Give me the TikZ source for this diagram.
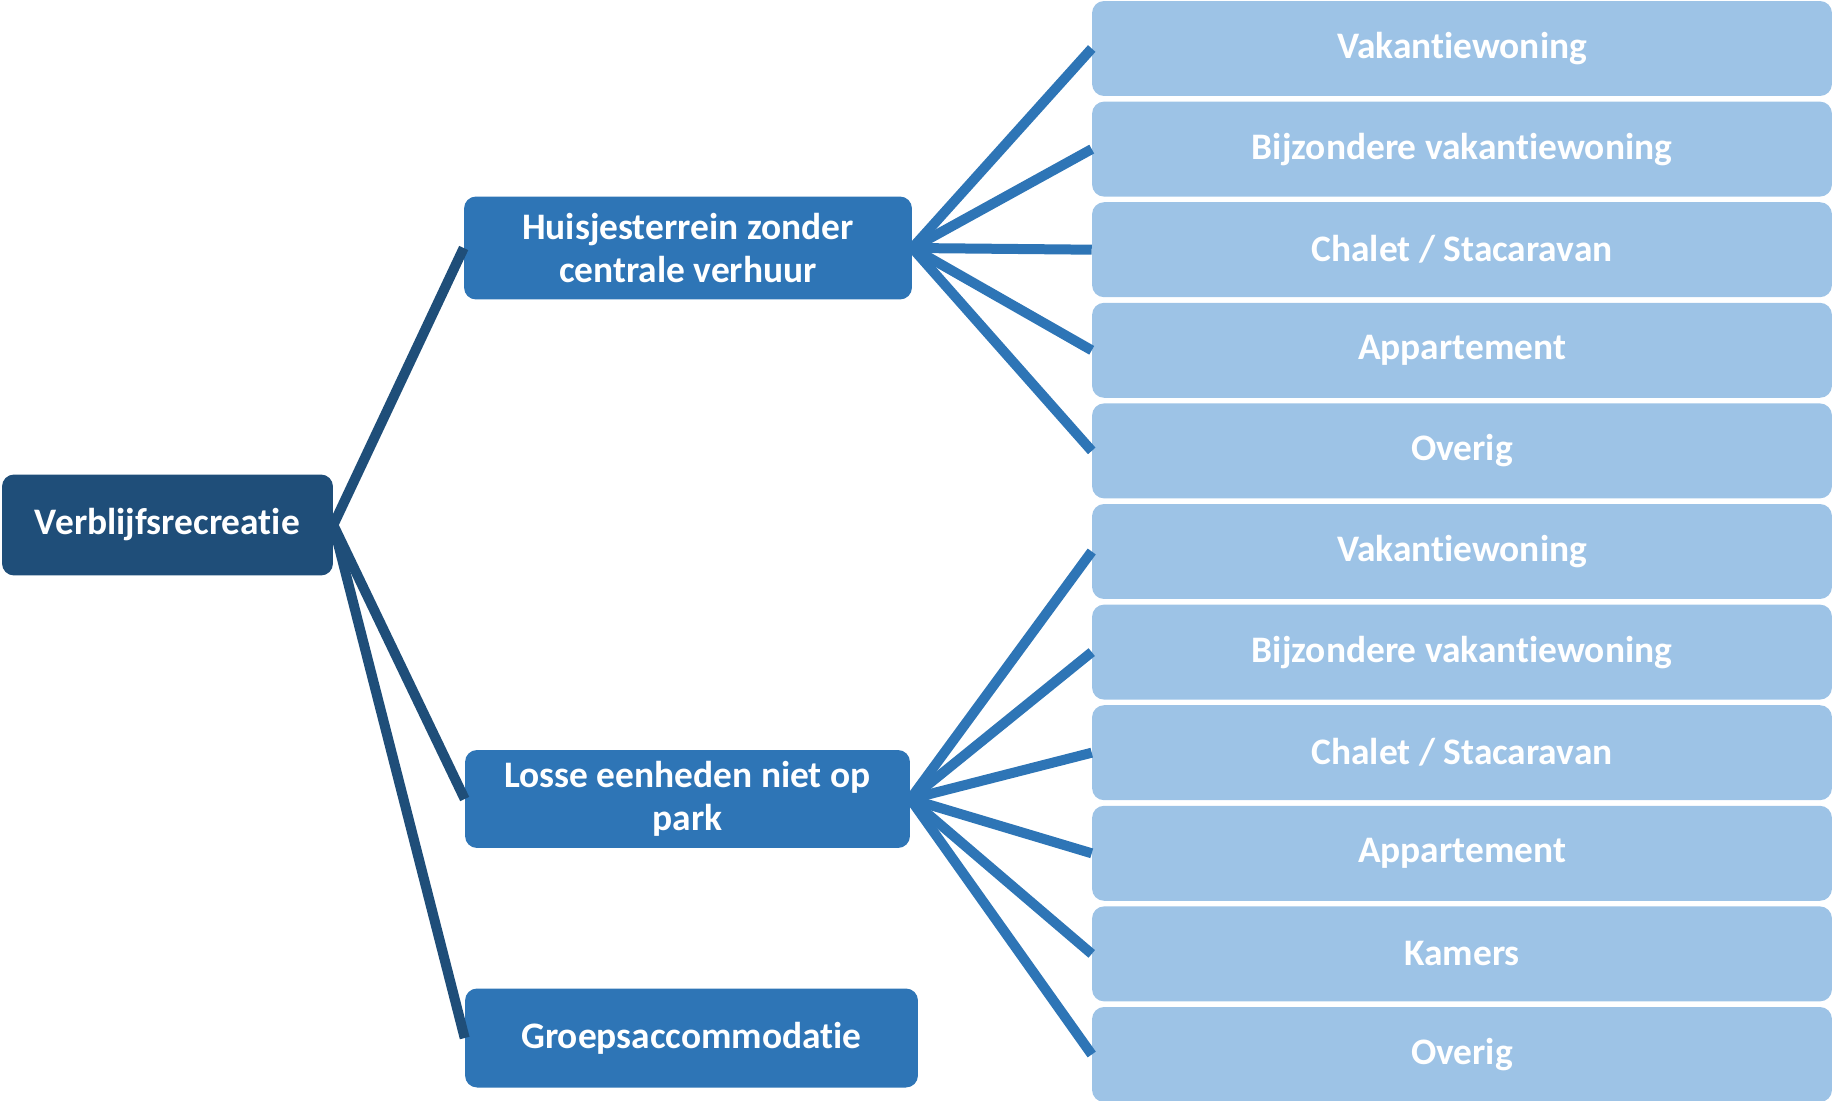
\documentclass[tikz,border=0pt]{standalone}
\usepackage{fontspec}
\setmainfont{Carlito}[Ligatures=NoCommon]
\definecolor{recdark}{RGB}{31, 78, 121}
\definecolor{recblue}{RGB}{46, 117, 182}
\definecolor{reclight}{RGB}{157, 195, 230}
\tikzset{
    catbox/.style={rectangle, rounded corners=0.24cm, inner sep=0pt, align=center,
        text=white, font=\fontsize{21.3}{24.5}\selectfont\bfseries},
    rootbox/.style={catbox, fill=recdark, minimum width=6.62cm, minimum height=2.02cm},
    midbox/.style={catbox, fill=recblue, minimum height=2cm},
    leafbox/.style={catbox, fill=reclight, minimum width=14.8cm, minimum height=1.9cm},
    rootline/.style={draw=recdark, line width=0.2cm},
    leafline/.style={draw=recblue, line width=0.2cm}
}

\begin{document}
\begin{tikzpicture}[x=0.02cm, y=-0.02cm]
    \useasboundingbox (0,0) rectangle (1834,1101);

    % Root
    \node[rootbox] (verblijf) at (167.5,525) {Verblijfsrecreatie};

    % Second level
    \node[midbox, minimum width=8.96cm, minimum height=2.06cm] (huisjes) at (688,248) {Huisjesterrein zonder\\centrale verhuur};
    \node[midbox, minimum width=8.9cm, minimum height=1.96cm] (losse) at (687.5,799) {Losse eenheden niet op\\park};
    \node[midbox, minimum width=9.06cm, minimum height=1.98cm] (groeps) at (691.5,1038) {Groepsaccommodatie};

    % Leaves Huisjesterrein
    \node[leafbox] (hvakantie) at (1462,48.5) {Vakantiewoning};
    \node[leafbox] (hbijzonder) at (1462,149.1) {Bijzondere vakantiewoning};
    \node[leafbox] (hchalet) at (1462,249.7) {Chalet / Stacaravan};
    \node[leafbox] (happ) at (1462,350.3) {Appartement};
    \node[leafbox] (hoverig) at (1462,450.9) {Overig};

    % Leaves Losse eenheden
    \node[leafbox] (lvakantie) at (1462,551.5) {Vakantiewoning};
    \node[leafbox] (lbijzonder) at (1462,652.1) {Bijzondere vakantiewoning};
    \node[leafbox] (lchalet) at (1462,752.7) {Chalet / Stacaravan};
    \node[leafbox] (lapp) at (1462,853.3) {Appartement};
    \node[leafbox] (lkamers) at (1462,953.9) {Kamers};
    \node[leafbox] (loverig) at (1462,1054.5) {Overig};

    % Connectors
    \draw[rootline] (verblijf.east) -- (huisjes.west);
    \draw[rootline] (verblijf.east) -- (losse.west);
    \draw[rootline] (verblijf.east) -- (groeps.west);

    \draw[leafline] (huisjes.east) -- (hvakantie.west);
    \draw[leafline] (huisjes.east) -- (hbijzonder.west);
    \draw[leafline] (huisjes.east) -- (hchalet.west);
    \draw[leafline] (huisjes.east) -- (happ.west);
    \draw[leafline] (huisjes.east) -- (hoverig.west);

    \draw[leafline] (losse.east) -- (lvakantie.west);
    \draw[leafline] (losse.east) -- (lbijzonder.west);
    \draw[leafline] (losse.east) -- (lchalet.west);
    \draw[leafline] (losse.east) -- (lapp.west);
    \draw[leafline] (losse.east) -- (lkamers.west);
    \draw[leafline] (losse.east) -- (loverig.west);
\end{tikzpicture}
\end{document}
